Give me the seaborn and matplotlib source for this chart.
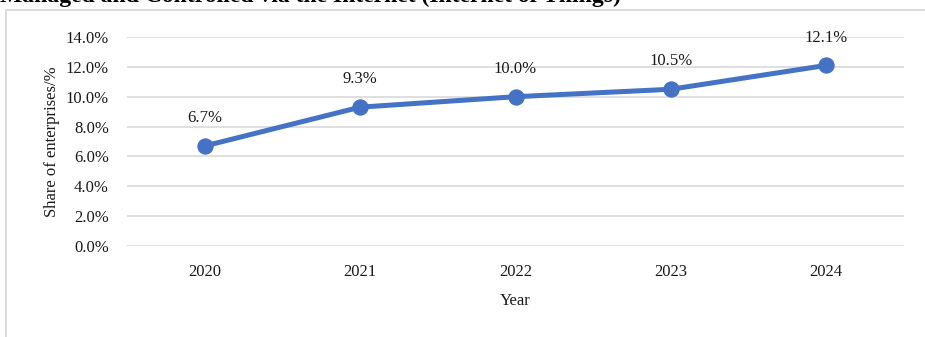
import matplotlib
matplotlib.use("Agg")
import matplotlib.pyplot as plt
from matplotlib.patches import Rectangle
from matplotlib.ticker import FuncFormatter
import pandas as pd
import seaborn as sns

# Share of enterprises using IoT devices, by year
years = ["2020", "2021", "2022", "2023", "2024"]
shares = [6.7, 9.3, 10.0, 10.5, 12.1]
y_ticks = [0, 2, 4, 6, 8, 10, 12, 14]

df = pd.DataFrame({"Year": years, "Share": shares})

sns.set_theme(style="white")
plt.rcParams["font.family"] = ["Liberation Serif", "DejaVu Serif"]

W, H = 925, 337
fig = plt.figure(figsize=(W / 100, H / 100), dpi=100)
ax = fig.add_axes([127 / W, 1 - 246 / H, (904 - 127) / W, (246 - 37) / H])

line_color = "#4472C4"
grid_color = "#D9D9D9"
text_color = "#1A1A1A"
fs = 12

sns.lineplot(data=df, x="Year", y="Share", ax=ax, color=line_color,
             linewidth=3.6, marker="o", markersize=11,
             markeredgecolor=line_color, sort=False, zorder=3)

for i, v in enumerate(shares):
    ax.annotate(f"{v:.1f}%", (i, v), xytext=(0, 20), textcoords="offset points",
                ha="center", va="center", fontsize=fs, color=text_color)

ax.set_xlim(-0.5, len(years) - 0.5)
ax.set_ylim(0, 14)
ax.set_yticks(y_ticks)
ax.yaxis.set_major_formatter(FuncFormatter(lambda v, _: f"{v:.1f}%"))
ax.grid(axis="y", color=grid_color, linewidth=1.2)
ax.grid(axis="x", visible=False)
for s in ax.spines.values():
    s.set_visible(False)
ax.tick_params(axis="both", length=0, labelsize=fs, colors=text_color)
ax.tick_params(axis="y", pad=13)
ax.tick_params(axis="x", pad=13)
ax.set_xlabel("Year", fontsize=fs, color=text_color, labelpad=9)
ax.set_ylabel("Share of enterprises/%", fontsize=fs, color=text_color, labelpad=4)

# Chart frame
fig.patches.append(Rectangle((6 / W, -0.1), 1.2, 1 - 10 / H + 0.1,
                             transform=fig.transFigure, fill=False,
                             edgecolor=grid_color, linewidth=1.3,
                             clip_on=False))

# Caption line above the frame
fig.text(0, 1 - 2 / H, "Managed and Controlled via the Internet (Internet of Things)",
         ha="left", va="baseline", fontsize=17, fontweight="bold", color="#000000")

fig.savefig("out.png", dpi=100)
